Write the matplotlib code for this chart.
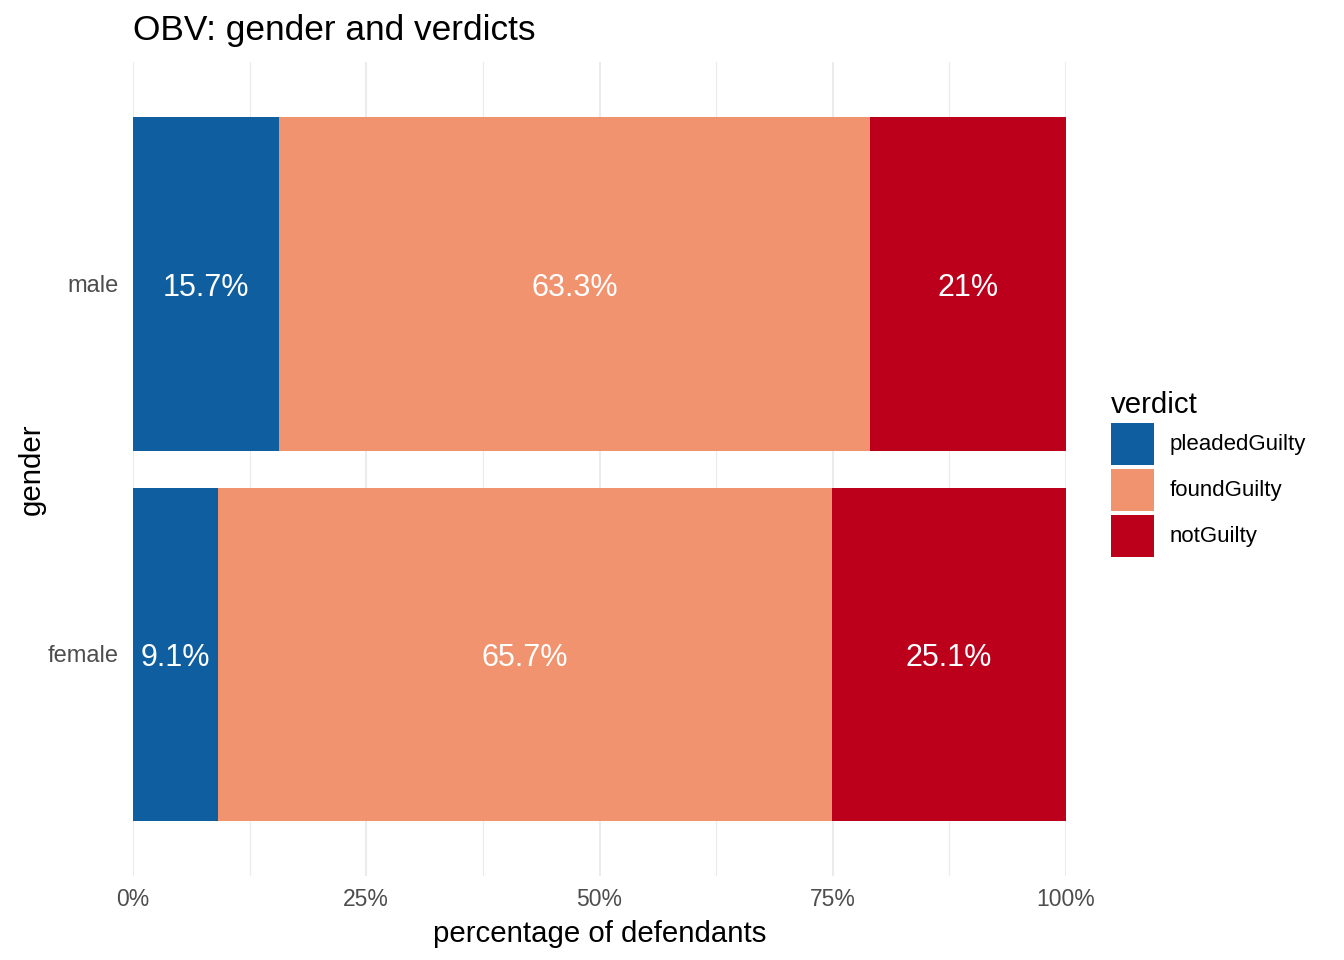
import numpy as np
import matplotlib
matplotlib.use("Agg")
import matplotlib.pyplot as plt
from matplotlib.ticker import FuncFormatter, MultipleLocator

plt.rcParams['font.family'] = ['Liberation Sans', 'DejaVu Sans']

# данные
genders = ['female', 'male']
verdicts = ['pleadedGuilty', 'foundGuilty', 'notGuilty']
colors = ['#0f5fa0', '#f0936e', '#bc001c']
shares = {
    'pleadedGuilty': [9.1, 15.7],
    'foundGuilty': [65.7, 63.3],
    'notGuilty': [25.1, 21.0],
}
labels = {
    'pleadedGuilty': ['9.1%', '15.7%'],
    'foundGuilty': ['65.7%', '63.3%'],
    'notGuilty': ['25.1%', '21%'],
}

fig = plt.figure(figsize=(13.44, 9.6), dpi=100)
ax = fig.add_axes([133 / 1344, 1 - 876 / 960, 933 / 1344, 814 / 960])

y = np.arange(len(genders))
total = np.array([sum(shares[v][i] for v in verdicts) for i in range(len(genders))])
left = np.zeros(len(genders))
handles = []
for v, c in zip(verdicts, colors):
    vals = np.array(shares[v]) / total
    h = ax.barh(y, vals, left=left, height=0.9, color=c, label=v, zorder=2)
    handles.append(h)
    for yi, (l, w, txt) in enumerate(zip(left, vals, labels[v])):
        ax.text(l + w / 2, yi, txt, ha='center', va='center_baseline', color='white',
                fontsize=22, zorder=3)
    left += vals

ax.set_xlim(0, 1)
ax.set_ylim(-0.6, 1.6)
ax.set_yticks(y)
ax.set_yticklabels(genders, va='center_baseline')
ax.xaxis.set_major_locator(MultipleLocator(0.25))
ax.xaxis.set_minor_locator(MultipleLocator(0.125))
ax.xaxis.set_major_formatter(FuncFormatter(lambda x, _: f'{x * 100:.0f}%'))

ax.grid(True, which='major', axis='x', color='#ebebeb', linewidth=1.5, zorder=0)
ax.grid(True, which='minor', axis='x', color='#ebebeb', linewidth=0.8, zorder=0)
ax.grid(True, which='major', axis='y', color='#ebebeb', linewidth=1.5, zorder=0)
ax.set_axisbelow(True)
for s in ax.spines.values():
    s.set_visible(False)
ax.tick_params(which='both', length=0)
ax.tick_params(axis='y', pad=10, labelsize=17, labelcolor='#4d4d4d')
ax.tick_params(axis='x', pad=9, labelsize=16.5, labelcolor='#4d4d4d')

ax.set_xlabel('percentage of defendants', fontsize=21.2, labelpad=6)
ax.set_ylabel('gender', fontsize=21.2, labelpad=2)
ax.set_title('OBV: gender and verdicts', fontsize=25.4, loc='left', pad=16)

leg = fig.legend(handles=handles, labels=verdicts, title='verdict',
                 loc='upper left', bbox_to_anchor=(1095 / 1344, 1 - 375 / 960),
                 frameon=False, fontsize=16, title_fontsize=21.2,
                 handlelength=1.94, handleheight=2.53, labelspacing=0.18,
                 handletextpad=0.72, borderpad=0.2, alignment='left')

fig.savefig('out.png', dpi=100)
